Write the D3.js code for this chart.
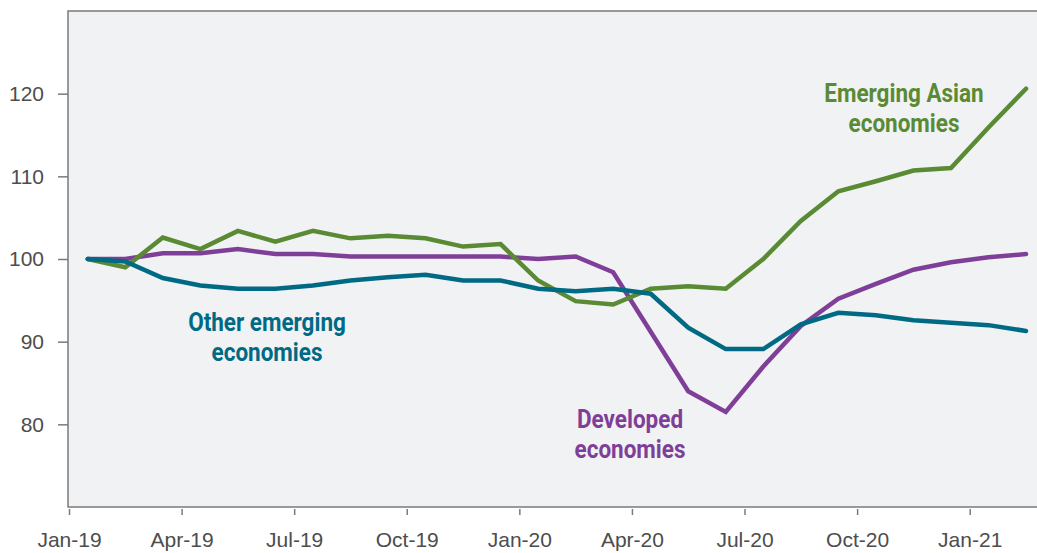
<!DOCTYPE html>
<html>
<head>
<meta charset="utf-8">
<script src="https://cdn.jsdelivr.net/npm/d3@7"></script>
<style>
  body { margin: 0; background: #fff; }
  svg { display: block; font-family: Roboto, "Noto Sans", sans-serif; }
</style>
</head>
<body>
<svg id="chart" width="1037" height="553"></svg>
<script>
// monthly index, Jan-19 = 100 (26 observations)
const months = d3.range(26);
const emergingAsia = [100, 99.0, 102.6, 101.2, 103.4, 102.1, 103.4, 102.5, 102.8, 102.5, 101.5, 101.8,
  97.4, 94.9, 94.5, 96.4, 96.7, 96.4, 100.0, 104.6, 108.2, 109.4, 110.7, 111.0, 115.9, 120.6];
const developed = [100, 100, 100.7, 100.7, 101.2, 100.6, 100.6, 100.3, 100.3, 100.3, 100.3, 100.3,
  100.0, 100.3, 98.4, 91.2, 84.0, 81.5, 87.0, 91.9, 95.2, 97.0, 98.7, 99.6, 100.2, 100.6];
const otherEmerging = [100, 99.7, 97.7, 96.8, 96.4, 96.4, 96.8, 97.4, 97.8, 98.1, 97.4, 97.4,
  96.4, 96.1, 96.4, 95.8, 91.7, 89.1, 89.1, 92.1, 93.5, 93.2, 92.6, 92.3, 92.0, 91.3];

const tickLabels = ["Jan-19", "Apr-19", "Jul-19", "Oct-19", "Jan-20", "Apr-20", "Jul-20", "Oct-20", "Jan-21"];
const yTicks = [80, 90, 100, 110, 120];

const series = [
  { name: "Developed", values: developed, color: "#7f3f98",
    label: ["Developed", "economies"], lx: 630, ly: 428 },
  { name: "Emerging Asia", values: emergingAsia, color: "#5a8a34",
    label: ["Emerging Asian", "economies"], lx: 904, ly: 102 },
  { name: "Other emerging", values: otherEmerging, color: "#006a85",
    label: ["Other emerging", "economies"], lx: 267, ly: 331 }
];

const svg = d3.select("#chart");
const plotLeft = 68, plotRight = 1040, plotTop = 11, plotBottom = 507;

// month boundaries sit half a step before each observation
const x = d3.scaleLinear().domain([-0.5, 25]).range([plotLeft + 1, 1026]);
const y = d3.scaleLinear().domain([70, 130]).range([plotBottom, plotTop]);

svg.append("rect")
  .attr("x", plotLeft).attr("y", plotTop)
  .attr("width", plotRight - plotLeft).attr("height", plotBottom - plotTop)
  .attr("fill", "#f1f2f4")
  .attr("stroke", "#7a7a7a")
  .attr("stroke-width", 1.5);

// y axis
const yAxis = d3.axisLeft(y).tickValues(yTicks).tickSize(10).tickPadding(14);
const gy = svg.append("g").attr("transform", `translate(${plotLeft},0)`).call(yAxis);
gy.select(".domain").remove();
gy.selectAll(".tick line").attr("stroke", "#7a7a7a").attr("stroke-width", 1.5);
gy.selectAll(".tick text").attr("fill", "#4d4d4d").style("font-size", "21px");

// x axis, ticks on quarter boundaries
const xTickPos = tickLabels.map((d, i) => i * 3 - 0.5);
const xAxis = d3.axisBottom(x).tickValues(xTickPos)
  .tickFormat((d, i) => tickLabels[i]).tickSize(6).tickPadding(17);
const gx = svg.append("g").attr("transform", `translate(0,${plotBottom + 2})`).call(xAxis);
gx.select(".domain").remove();
gx.selectAll(".tick line").attr("stroke", "#7a7a7a").attr("stroke-width", 1.5);
gx.selectAll(".tick text").attr("fill", "#4d4d4d").style("font-size", "21px");

const line = d3.line().x((d, i) => x(months[i])).y(d => y(d));

series.forEach(s => {
  svg.append("path")
    .datum(s.values)
    .attr("d", line)
    .attr("fill", "none")
    .attr("stroke", s.color)
    .attr("stroke-width", 4.5)
    .attr("stroke-linejoin", "miter")
    .attr("stroke-linecap", "round");
});

// direct labels
series.forEach(s => {
  s.label.forEach((txt, k) => {
    svg.append("text")
      .attr("transform", `translate(${s.lx},${s.ly + k * 30}) scale(0.9,1)`)
      .attr("text-anchor", "middle")
      .attr("fill", s.color)
      .style("font-size", "25px")
      .style("font-weight", "bold")
      .text(txt);
  });
});
</script>
</body>
</html>
